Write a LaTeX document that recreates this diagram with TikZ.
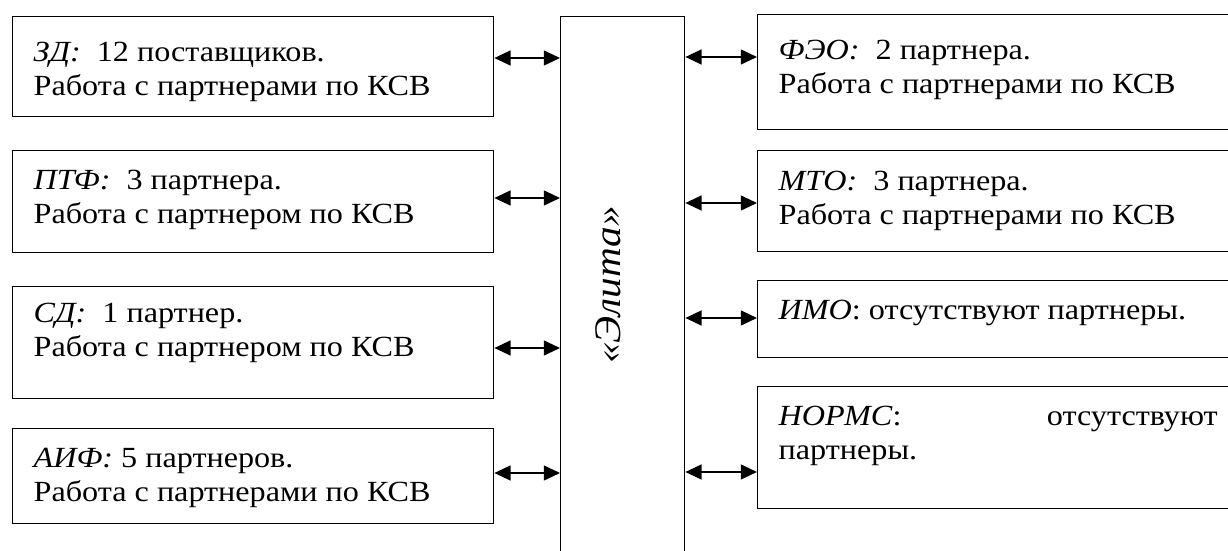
\documentclass[tikz,border=0pt]{standalone}
\usepackage{fontspec}
\setmainfont{Liberation Serif}[FakeStretch=1.1]
\usetikzlibrary{arrows.meta}

\newcommand{\bodyfont}{\fontsize{11.7pt}{13.6pt}\selectfont}
\newcommand{\firmfont}{\fontsize{15pt}{18pt}\selectfont\itshape}

\begin{document}
\begin{tikzpicture}[x=0.4pt, y=-0.4pt,
    box/.style={draw, line width=0.55pt, anchor=north west, inner xsep=8.4pt,
      inner ysep=0pt, text width=175.6pt, align=justify, font=\bodyfont},
    link/.style={{Triangle[length=6.5pt,width=6pt]}-{Triangle[length=6.5pt,width=6pt]},
      line width=0.6pt}]
    \clip (0,0) rectangle (1228,551);

    % central block, open at the bottom
    \node[draw, line width=0.55pt, anchor=north west, inner sep=0pt,
      minimum width=49.6pt, minimum height=233.6pt] (elita) at (560,16) {};
    \node[rotate=90, font=\firmfont] (elitaname) at (608,285) {«Элита»};

    % left column
    \node[box, text height=18pt, text depth=22pt] (zd) at (12,16)
      {\textit{ЗД:}\ \ 12 поставщиков.\\ Работа с партнерами по КСВ};
    \node[box, text height=15.6pt, text depth=25.2pt] (ptf) at (12,150)
      {\textit{ПТФ:}\ \ 3 партнера.\\ Работа с партнером по КСВ};
    \node[box, text height=14.4pt, text depth=30.4pt] (sd) at (12,286)
      {\textit{СД:}\ \ 1 партнер.\\ Работа с партнером по КСВ};
    \node[box, text height=15.6pt, text depth=22.4pt] (aif) at (12,428)
      {\textit{АИФ:} 5 партнеров.\\ Работа с партнерами по КСВ};

    % right column
    \node[box, text height=18pt, text depth=28pt] (feo) at (757,14)
      {\textit{ФЭО:}\ \ 2 партнера.\\ Работа с партнерами по КСВ};
    \node[box, text height=16pt, text depth=24.4pt] (mto) at (757,150)
      {\textit{МТО:}\ \ 3 партнера.\\ Работа с партнерами по КСВ};
    \node[box, text height=15.6pt, text depth=15.2pt] (imo) at (757,280)
      {\textit{ИМО}: отсутствуют партнеры.};
    \node[box, text height=15.6pt, text depth=33.2pt] (norms) at (757,386)
      {\textit{НОРМС}:\hfill отсутствуют\\ партнеры.};

    % links
    \draw[link] (zd.east |- 0,58) -- (elita.west |- 0,58);
    \draw[link] (ptf.east |- 0,198) -- (elita.west |- 0,198);
    \draw[link] (sd.east |- 0,348) -- (elita.west |- 0,348);
    \draw[link] (aif.east |- 0,473) -- (elita.west |- 0,473);
    \draw[link] (elita.east |- 0,57) -- (feo.west |- 0,57);
    \draw[link] (elita.east |- 0,203) -- (mto.west |- 0,203);
    \draw[link] (elita.east |- 0,318) -- (imo.west |- 0,318);
    \draw[link] (elita.east |- 0,472) -- (norms.west |- 0,472);
\end{tikzpicture}
\end{document}
